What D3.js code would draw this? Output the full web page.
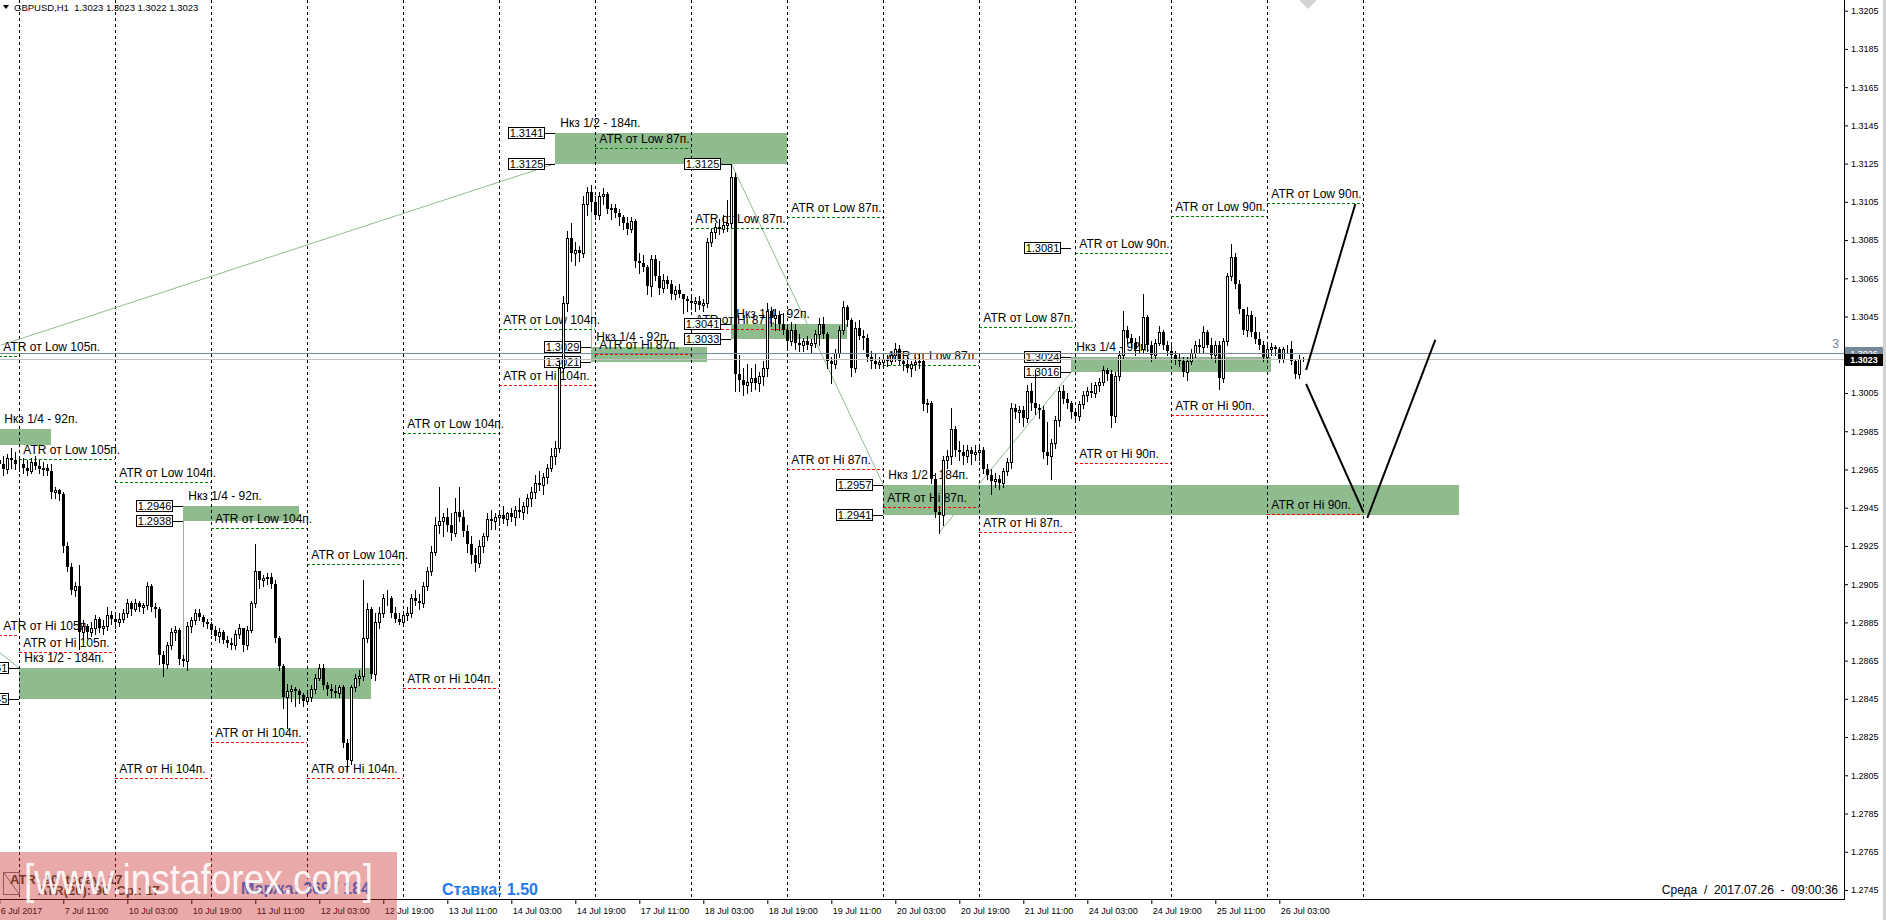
<!DOCTYPE html>
<html><head><meta charset="utf-8">
<script src="https://cdnjs.cloudflare.com/ajax/libs/d3/7.8.5/d3.min.js"></script>
<style>
html,body{margin:0;padding:0;background:#fff;overflow:hidden}
svg{display:block}
text{font-family:"Liberation Sans",Arial,sans-serif}
</style></head><body>
<svg id="c" width="1886" height="920"></svg>
<script>
// ---------- DATA ----------
const BASE = 1.27, PIP = 0.0001;          // candle values are pips above 1.2700
const firstOpen = 270;
// each bar: [high, low, close]; open = previous close
const jul06 = [[274,260,268],[272,262,265],[273,263,271],[276,266,270],[274,265,268]];
const jul07 = [[272,264,268],[271,263,266],[270,262,264],[271,263,269],[272,265,267],[270,263,265],[269,262,266],[268,262,264],
[268,250,253],[256,250,254],[255,249,252],[253,222,225],[227,212,214],[216,200,202],[206,199,204],[215,171,180],
[186,176,183],[184,177,180],[185,178,182],[189,179,187],[188,180,182],[186,179,183],[193,181,189],[191,184,187]];
const jul10 = [[189,182,185],[190,183,187],[192,185,190],[197,188,195],[196,189,192],[197,191,195],[196,191,193],[195,190,194],
[206,192,204],[205,191,193],[195,188,192],[193,163,168],[170,157,163],[175,161,173],[182,171,180],[183,176,181],
[182,163,166],[168,162,165],[185,160,183],[188,180,186],[192,184,190],[192,186,188],[189,183,185],[187,182,184]];
const jul11 = [[185,179,181],[183,176,178],[182,175,180],[181,174,176],[178,172,174],[177,171,173],[181,171,179],[184,177,182],
[182,170,173],[183,171,181],[196,180,195],[226,193,212],[212,203,207],[210,204,208],[211,205,209],[211,203,205],
[207,175,177],[178,160,162],[163,140,146],[153,130,149],[152,144,150],[151,141,149],[150,143,147],[148,141,144]];
const jul12 = [[149,143,146],[152,144,150],[158,148,156],[163,155,161],[163,150,152],[154,147,150],[153,146,149],[152,146,148],
[152,146,151],[152,120,122],[124,108,113],[152,111,151],[158,149,156],[160,152,157],[207,155,177],[195,175,192],
[193,156,158],[190,155,185],[193,182,190],[200,188,198],[202,194,198],[199,188,190],[193,185,187],[190,184,185]];
const jul13 = [[191,183,189],[193,186,190],[200,188,198],[202,194,196],[200,192,195],[206,193,204],[214,202,212],[225,210,222],
[240,220,236],[256,232,238],[242,230,240],[245,233,236],[242,228,232],[250,230,243],[256,238,240],[244,230,233],
[236,222,226],[230,216,220],[224,212,216],[228,214,225],[232,222,230],[242,228,239],[244,234,238],[242,234,240]];
const jul14 = [[244,236,241],[246,237,239],[243,236,242],[245,238,240],[246,236,244],[250,240,243],[248,239,246],[252,242,250],
[256,246,253],[262,250,258],[264,254,257],[263,252,261],[268,258,266],[276,264,272],[280,268,276],[322,274,318],
[356,316,352],[390,348,386],[394,374,378],[384,372,380],[382,374,378],[408,376,404],[413,398,410],[414,400,405]];
const jul17 = [[408,396,398],[410,396,408],[412,404,409],[410,399,401],[404,396,402],[404,397,399],[401,393,397],[398,391,394],
[397,388,391],[397,389,395],[396,371,374],[378,368,373],[377,369,371],[372,357,361],[377,356,375],[377,364,366],
[374,357,360],[367,358,364],[366,360,362],[364,354,357],[361,354,359],[362,355,357],[357,347,354],[356,348,353]];
const jul18 = [[356,349,352],[355,348,353],[356,349,351],[354,348,352],[386,350,384],[391,382,389],[394,386,392],[396,388,391],
[398,389,393],[406,390,394],[425,392,418],[420,306,315],[325,306,312],[318,304,309],[320,305,311],[318,306,313],
[320,307,310],[316,306,314],[322,309,318],[352,314,348],[350,340,344],[349,338,346],[348,338,341],[347,336,338]];
const jul19 = [[340,328,332],[342,330,338],[341,328,331],[336,327,330],[334,327,332],[335,328,330],[333,326,331],[338,329,336],
[344,330,341],[345,334,336],[337,318,322],[324,310,320],[328,318,326],[340,324,338],[353,336,350],[351,340,343],
[344,314,318],[342,316,339],[343,333,335],[338,328,334],[336,322,324],[327,318,322],[326,318,320],[324,318,321]];
const jul20 = [[326,319,323],[325,319,322],[327,320,325],[331,322,328],[330,320,322],[325,317,320],[324,316,318],[322,314,320],
[324,317,321],[326,318,322],[323,296,299],[302,295,300],[301,258,260],[263,240,243],[246,232,241],[272,236,270],
[275,266,272],[297,268,286],[288,272,275],[280,270,274],[278,268,272],[278,269,275],[277,268,273],[278,270,274]];
const jul21 = [[278,270,275],[277,263,265],[268,260,262],[265,252,259],[263,256,260],[262,255,258],[266,256,264],[271,262,269],
[300,266,297],[299,292,295],[298,290,296],[298,288,292],[309,290,306],[310,296,300],[317,294,297],[299,292,296],
[298,271,274],[290,268,272],[281,260,279],[293,276,291],[308,288,306],[309,300,302],[305,297,300],[301,292,295]];
const jul24 = [[297,290,293],[301,291,299],[306,297,304],[308,301,306],[310,303,305],[311,303,309],[313,306,311],[319,309,317],
[318,312,315],[317,287,293],[316,290,314],[327,312,325],[348,323,338],[340,331,334],[336,329,331],[334,325,328],
[335,326,328],[357,326,345],[346,327,330],[332,322,325],[333,323,331],[340,330,337],[338,328,330],[332,325,327]];
const jul25 = [[330,323,325],[327,320,323],[326,319,322],[324,314,316],[324,312,322],[328,320,326],[332,324,330],[333,326,329],
[340,326,337],[338,329,330],[334,323,325],[332,321,330],[332,307,313],[334,311,332],[368,330,366],[383,364,376],
[378,360,362],[364,347,349],[349,336,338],[350,335,346],[348,335,337],[345,331,333],[337,328,330],[332,322,324]];
const jul26 = [[330,322,328],[331,325,329],[330,325,328],[329,321,323],[329,321,328],[330,326,328],[332,320,322],[323,313,315],[325,313,323],[324,322,323]];
const firstBarIndex = -5;   // 6 Jul 19:00 ; index 0 = 7 Jul 00:00

const priceTicks = [1.2745,1.2765,1.2785,1.2805,1.2825,1.2845,1.2865,1.2885,1.2905,1.2925,1.2945,1.2965,1.2985,1.3005,1.3025,1.3045,1.3065,1.3085,1.3105,1.3125,1.3145,1.3165,1.3185,1.3205];
const timeTickIdx = [-5,11,27,43,59,75,91,107,123,139,155,171,187,203,219,235,251,267,283,299,315];
const timeLabels = ["6 Jul 2017","7 Jul 11:00","10 Jul 03:00","10 Jul 19:00","11 Jul 11:00","12 Jul 03:00","12 Jul 19:00","13 Jul 11:00","14 Jul 03:00","14 Jul 19:00","17 Jul 11:00","18 Jul 03:00","18 Jul 19:00","19 Jul 11:00","20 Jul 03:00","20 Jul 19:00","21 Jul 11:00","24 Jul 03:00","24 Jul 19:00","25 Jul 11:00","26 Jul 03:00"];
const daySeparators = [0,24,48,72,96,120,144,168,192,216,240,264,288,312,336];

// daily ATR levels
const atrStart = [-5,0,24,48,72,96,120,144,168,192,216,240,264,288,312];
const atrEnd   = [0,24,48,72,96,120,144,168,192,216,240,264,288,312,336];
const atrLowLevel = [1.30244,1.29703,1.29583,1.29342,1.29156,1.29841,1.30383,1.31330,1.30912,1.30972,1.30197,1.30394,1.30784,1.30976,1.31043];
const atrHiLevel  = [1.28784,1.28694,1.28035,1.28223,1.28035,1.28507,1.30092,1.30253,1.30385,1.29651,1.29452,1.29322,1.29683,1.29935,1.29416];
const atrPips     = [105,105,104,104,104,104,104,87,87,87,87,87,90,90,90];

// zones
const zoneStart  = [-5, 0, 41, 134, 143, 178, 216, 263];
const zoneEnd    = [8, 88, 70, 192, 172, 207, 360, 313];
const zoneTop    = [1.2986,1.2861,1.2946,1.3141,1.3029,1.3041,1.2957,1.3024];
const zoneBottom = [1.2978,1.2845,1.2938,1.3125,1.3021,1.3033,1.2941,1.3016];
const zoneLabel  = ["Нкз 1/4 - 92п.","Нкз 1/2 - 184п.","Нкз 1/4 - 92п.","Нкз 1/2 - 184п.","Нкз 1/4 - 92п.","Нкз 1/4 - 92п.","Нкз 1/2 - 184п.","Нкз 1/4 - 92п."];
const extraBoxIdx   = [178, 263];
const extraBoxPrice = [1.3125, 1.3081];

const greenVLineIdx = [41, 143, 178];
const greenVLineFrom = [1.2938, 1.3029, 1.3125];
const greenVLineTo   = [1.28645, 1.31127, 1.3033];
const diagFromIdx = [-4.6, 178, 230, -5];
const diagFromPrice = [1.3030, 1.3125, 1.2932, 1.28694];
const diagToIdx = [134, 216, 263, 0];
const diagToPrice = [1.3125, 1.2957, 1.3016, 1.2861];

const projFromIdx = [321.7, 321.7, 337];
const projFromPrice = [1.3017, 1.30097, 1.29396];
const projToIdx = [334, 336, 354];
const projToPrice = [1.31039, 1.29428, 1.30328];

const bidPrice = 1.3023, askPrice = 1.3026;

// ---------- BUILD ----------
const days = [jul06,jul07,jul10,jul11,jul12,jul13,jul14,jul17,jul18,jul19,jul20,jul21,jul24,jul25,jul26];
const bars = [];
{ let prev = firstOpen, i = firstBarIndex;
  days.forEach(d => d.forEach(([h,l,c]) => { bars.push({i, o:prev, h, l, c}); prev = c; i++; })); }

const svg = d3.select('#c');
const plotR = 1844, plotB = 899;
const x = d3.scaleLinear().domain([0,321]).range([19.3,1303.3]);
const y = d3.scaleLinear().domain([1.2745,1.3205]).range([890,10.7]);
const pv = v => BASE + v*PIP;
const sx = i => Math.round(x(i)) + 0.5;
const sy = p => Math.round(y(p)) + 0.5;

svg.append('rect').attr('width',1886).attr('height',920).attr('fill','#fff');
svg.append('defs').append('clipPath').attr('id','plot').append('rect')
  .attr('x',0).attr('y',0).attr('width',plotR).attr('height',plotB);
const plot = svg.append('g').attr('clip-path','url(#plot)');

// zones
const zg = plot.append('g');
zg.selectAll('rect').data(zoneStart).join('rect')
  .attr('x', d => Math.round(x(d)))
  .attr('y', (d,k) => Math.round(y(zoneTop[k])))
  .attr('width', (d,k) => Math.round(x(zoneEnd[k])) - Math.round(x(d)))
  .attr('height', (d,k) => Math.round(y(zoneBottom[k])) - Math.round(y(zoneTop[k])))
  .attr('fill','#8FBC8F');

// day separators
plot.append('g').selectAll('line').data(daySeparators).join('line')
  .attr('x1', d => sx(d)).attr('x2', d => sx(d)).attr('y1',0).attr('y2',plotB)
  .attr('stroke','#000').attr('stroke-width',1).attr('stroke-dasharray','3,3');

// green diagonal / vertical lines
plot.append('g').selectAll('line').data(diagFromIdx).join('line')
  .attr('x1', d => x(d)).attr('y1', (d,k) => y(diagFromPrice[k]))
  .attr('x2', (d,k) => x(diagToIdx[k])).attr('y2', (d,k) => y(diagToPrice[k]))
  .attr('stroke','#8FBC8F').attr('stroke-width',1);
plot.append('g').selectAll('line').data(greenVLineIdx).join('line')
  .attr('x1', d => sx(d)).attr('x2', d => sx(d))
  .attr('y1', (d,k) => y(greenVLineFrom[k])).attr('y2', (d,k) => y(greenVLineTo[k]))
  .attr('stroke','#8FBC8F').attr('stroke-width',1);

// ATR dashed lines
const ag = plot.append('g');
ag.selectAll('line.lo').data(atrStart).join('line').attr('class','lo')
  .attr('x1', d => Math.round(x(d))).attr('x2', (d,k) => Math.round(x(atrEnd[k])))
  .attr('y1', (d,k) => sy(atrLowLevel[k])).attr('y2', (d,k) => sy(atrLowLevel[k]))
  .attr('stroke','#008000').attr('stroke-dasharray','3,2');
ag.selectAll('line.hi').data(atrStart).join('line').attr('class','hi')
  .attr('x1', d => Math.round(x(d))).attr('x2', (d,k) => Math.round(x(atrEnd[k])))
  .attr('y1', (d,k) => sy(atrHiLevel[k])).attr('y2', (d,k) => sy(atrHiLevel[k]))
  .attr('stroke','#ff0000').attr('stroke-dasharray','3,2');
ag.selectAll('text.lo').data(atrStart).join('text').attr('class','lo')
  .attr('x', d => x(d) + 4).attr('y', (d,k) => y(atrLowLevel[k]) - 5)
  .attr('font-size',12).attr('fill','#000')
  .text((d,k) => 'ATR от Low ' + atrPips[k] + 'п.');
ag.selectAll('text.hi').data(atrStart).join('text').attr('class','hi')
  .attr('x', d => x(d) + 4).attr('y', (d,k) => y(atrHiLevel[k]) - 5)
  .attr('font-size',12).attr('fill','#000')
  .text((d,k) => 'ATR от Hi ' + atrPips[k] + 'п.');

// zone labels
plot.append('g').selectAll('text').data(zoneStart).join('text')
  .attr('x', d => x(d) + 5).attr('y', (d,k) => y(zoneTop[k]) - 6)
  .attr('font-size',12).attr('fill','#000').text((d,k) => zoneLabel[k]);

// price boxes
const boxes = [];
zoneStart.forEach((s,k) => { boxes.push({i:s, p:zoneTop[k]}); boxes.push({i:s, p:zoneBottom[k]}); });
extraBoxIdx.forEach((s,k) => boxes.push({i:s, p:extraBoxPrice[k]}));
const bg = plot.append('g');
bg.selectAll('line').data(boxes).join('line')
  .attr('x1', d => Math.round(x(d.i)) - 10).attr('x2', d => Math.round(x(d.i)))
  .attr('y1', d => sy(d.p)).attr('y2', d => sy(d.p)).attr('stroke','#000');
bg.selectAll('rect').data(boxes).join('rect')
  .attr('x', d => Math.round(x(d.i)) - 46.5).attr('y', d => Math.round(y(d.p)) - 5.5)
  .attr('width',36).attr('height',11).attr('fill','#fff').attr('stroke','#000');
bg.selectAll('text').data(boxes).join('text')
  .attr('x', d => Math.round(x(d.i)) - 28.5).attr('y', d => Math.round(y(d.p)) + 4)
  .attr('text-anchor','middle').attr('font-size',11).attr('fill','#000')
  .text(d => d3.format('.4f')(d.p));

// candles
const cg = plot.append('g');
cg.selectAll('line').data(bars).join('line')
  .attr('x1', d => sx(d.i)).attr('x2', d => sx(d.i))
  .attr('y1', d => Math.round(y(pv(d.h)))).attr('y2', d => Math.round(y(pv(d.l))) + 1)
  .attr('stroke','#000');
cg.selectAll('rect').data(bars).join('rect')
  .attr('x', d => d.c >= d.o ? sx(d.i) - 1 : sx(d.i) - 1.5)
  .attr('width', d => d.c >= d.o ? 2 : 3)
  .attr('y', d => { const t = Math.round(y(pv(Math.max(d.o,d.c)))); return d.c >= d.o ? t + 0.5 : t; })
  .attr('height', d => { const t = Math.round(y(pv(Math.max(d.o,d.c)))), b = Math.round(y(pv(Math.min(d.o,d.c))));
      return d.c >= d.o ? Math.max(b - t, 0) : Math.max(b - t, 1); })
  .attr('fill', d => d.c >= d.o ? '#fff' : '#000')
  .attr('stroke', d => d.c >= d.o ? '#000' : 'none');

// bid / ask lines
plot.append('line').attr('x1',0).attr('x2',plotR).attr('y1',sy(askPrice)).attr('y2',sy(askPrice)).attr('stroke','#778899');
plot.append('line').attr('x1',0).attr('x2',plotR).attr('y1',sy(bidPrice)).attr('y2',sy(bidPrice)).attr('stroke','#c0c0c0');

// projection lines
plot.append('g').selectAll('line').data(projFromIdx).join('line')
  .attr('x1', d => x(d)).attr('y1', (d,k) => y(projFromPrice[k]))
  .attr('x2', (d,k) => x(projToIdx[k])).attr('y2', (d,k) => y(projToPrice[k]))
  .attr('stroke','#000').attr('stroke-width',2);

// top-right small arrow object
plot.append('path').attr('d','M1299,0 L1317,0 L1308,9 Z').attr('fill','#d3d3d3');

// ---------- AXES ----------
const ya = svg.append('g').attr('transform',`translate(${plotR},0)`)
  .call(d3.axisRight(y).tickValues(priceTicks).tickFormat(d3.format('.4f')).tickSize(4));
ya.select('.domain').remove();
ya.selectAll('text').attr('font-family','"Liberation Sans",Arial,sans-serif').attr('font-size',9).attr('fill','#000');
ya.selectAll('line').attr('stroke','#000');
svg.append('line').attr('x1',plotR+0.5).attr('x2',plotR+0.5).attr('y1',0).attr('y2',plotB+0.5).attr('stroke','#000');

const xa = svg.append('g').attr('transform',`translate(0,${plotB})`)
  .call(d3.axisBottom(x).tickValues(timeTickIdx).tickFormat((d,k) => timeLabels[k]).tickSize(5));
xa.select('.domain').remove();
xa.selectAll('line').attr('stroke','#000');
xa.selectAll('text').attr('font-family','"Liberation Sans",Arial,sans-serif').attr('font-size',9)
  .attr('fill','#000').attr('text-anchor','start').attr('x',1).attr('y',9).attr('dy','0.71em');
svg.append('line').attr('x1',0).attr('x2',plotR+1).attr('y1',plotB+0.5).attr('y2',plotB+0.5).attr('stroke','#000');
svg.append('rect').attr('x',1883).attr('y',0).attr('width',3).attr('height',920).attr('fill','#d4d4d4');

// axis price boxes
svg.append('rect').attr('x',1845).attr('y',Math.round(y(askPrice))-6).attr('width',38).attr('height',12).attr('fill','#778899');
svg.append('text').attr('x',1864).attr('y',Math.round(y(askPrice))+4).attr('text-anchor','middle').attr('font-size',9).attr('fill','#fff').text(d3.format('.4f')(askPrice));
svg.append('rect').attr('x',1845).attr('y',Math.round(y(bidPrice))-5).attr('width',38).attr('height',12).attr('fill','#000');
svg.append('text').attr('x',1864).attr('y',Math.round(y(bidPrice))+4).attr('text-anchor','middle').attr('font-size',9).attr('font-weight','bold').attr('fill','#fff').text(d3.format('.4f')(bidPrice));
svg.append('text').attr('x',1839).attr('y',348).attr('text-anchor','end').attr('font-size',12).attr('fill','#708090').text('3');

// ---------- TEXTS ----------
svg.append('path').attr('d','M3,5 L9,5 L6,9 Z').attr('fill','#000');
svg.append('text').attr('x',14).attr('y',11).attr('font-size',9.5).attr('fill','#000')
  .attr('xml:space','preserve').style('white-space','pre').text('GBPUSD,H1  1.3023 1.3023 1.3022 1.3023');
svg.append('text').attr('x',1838).attr('y',894).attr('text-anchor','end').attr('font-size',12).attr('fill','#000')
  .style('white-space','pre').text('Среда  /  2017.07.26  -  09:00:36');

// info panel under watermark
svg.append('rect').attr('x',3.5).attr('y',872.5).attr('width',16).attr('height',22).attr('fill','none').attr('stroke','#777');
svg.append('line').attr('x1',3.5).attr('y1',872.5).attr('x2',19.5).attr('y2',894.5).attr('stroke','#777');
svg.append('text').attr('x',10).attr('y',884).attr('font-size',13).attr('font-weight','bold').attr('fill','#44442a')
  .style('white-space','pre').text('ATR: 90  today: 17');
svg.append('text').attr('x',38).attr('y',895).attr('font-size',13).attr('font-weight','bold').attr('fill','#44442a')
  .style('white-space','pre').text('ATR(20): 90  Ср.: 17');
svg.append('text').attr('x',241).attr('y',894).attr('font-size',16).attr('font-weight','bold').attr('fill','#1E78F0')
  .text('Маржа: 369 / 184');
svg.append('text').attr('x',442).attr('y',895).attr('font-size',16).attr('font-weight','bold').attr('fill','#1E78F0')
  .text('Ставка: 1.50');

// watermark
svg.append('rect').attr('x',0).attr('y',852).attr('width',397).attr('height',68).attr('fill','rgba(200,40,40,0.4)');
svg.append('text').attr('x',24).attr('y',894).attr('font-size',42).attr('fill','#fff').attr('fill-opacity',0.9)
  .attr('textLength',349).attr('lengthAdjust','spacingAndGlyphs').text('[www.instaforex.com]');
</script>
</body></html>
